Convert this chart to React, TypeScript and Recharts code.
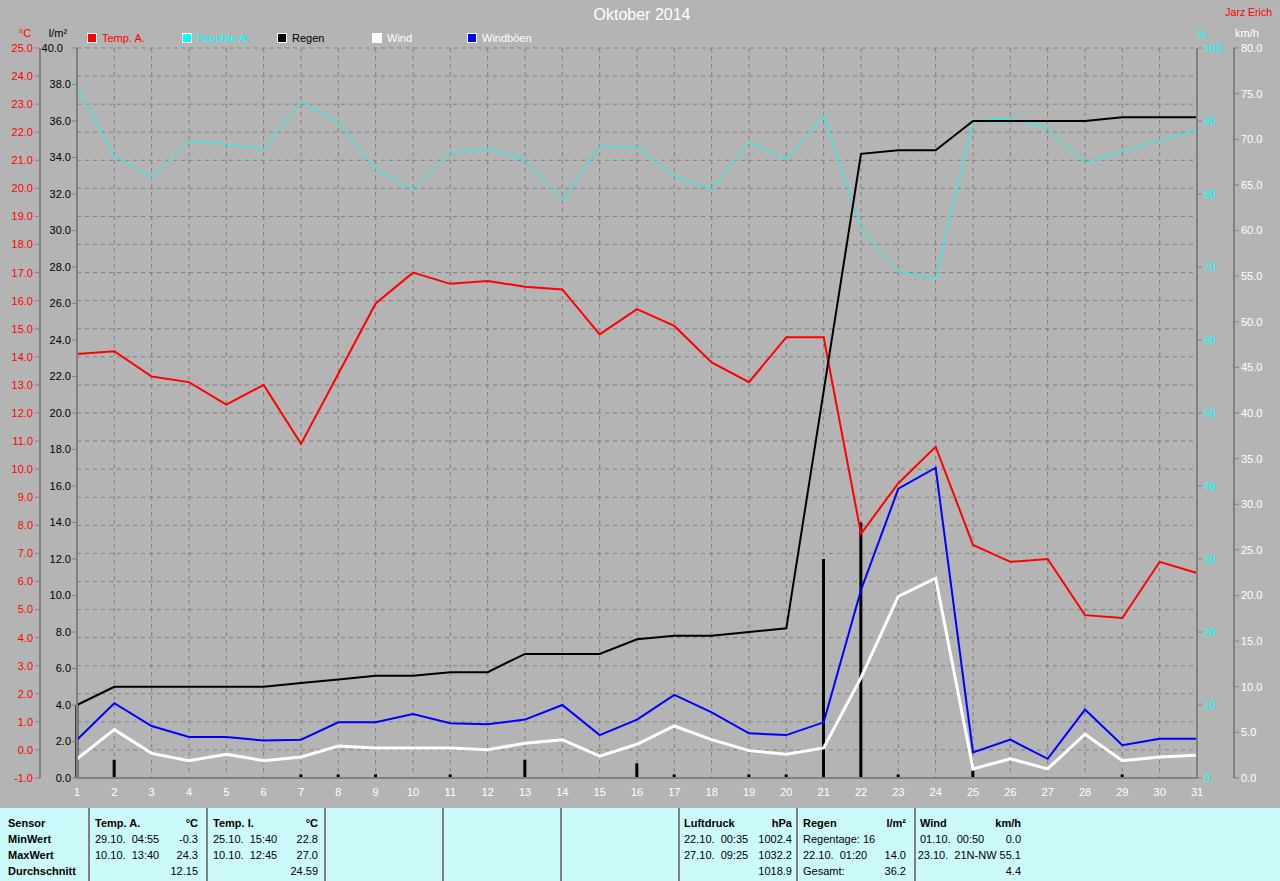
import { ComposedChart, Line, Bar, XAxis, YAxis, CartesianGrid } from 'recharts';

const FONT = '"Liberation Sans", Arial, sans-serif';

const days = [1, 2, 3, 4, 5, 6, 7, 8, 9, 10, 11, 12, 13, 14, 15, 16, 17, 18, 19, 20, 21, 22, 23, 24, 25, 26, 27, 28, 29, 30, 31];
const tempA = [14.1, 14.2, 13.3, 13.1, 12.3, 13.0, 10.9, 13.4, 15.9, 17.0, 16.6, 16.7, 16.5, 16.4, 14.8, 15.7, 15.1, 13.8, 13.1, 14.7, 14.7, 7.7, 9.5, 10.8, 7.3, 6.7, 6.8, 4.8, 4.7, 6.7, 6.3];
const humidity = [94.6, 85.2, 82.3, 87.3, 86.8, 86.2, 92.6, 89.9, 83.4, 80.7, 85.7, 86.2, 84.7, 79.1, 86.5, 86.4, 82.5, 80.7, 87.1, 84.7, 90.8, 75.3, 69.4, 68.4, 90.0, 90.4, 89.0, 84.2, 85.8, 87.4, 88.7];
const rainTotal = [4.0, 5.0, 5.0, 5.0, 5.0, 5.0, 5.2, 5.4, 5.6, 5.6, 5.8, 5.8, 6.8, 6.8, 6.8, 7.6, 7.8, 7.8, 8.0, 8.2, 21.2, 34.2, 34.4, 34.4, 36.0, 36.0, 36.0, 36.0, 36.2, 36.2, 36.2];
const rainDaily = [4.0, 1.0, 0, 0, 0, 0, 0.2, 0.2, 0.2, 0, 0.2, 0, 1.0, 0, 0, 0.8, 0.2, 0, 0.2, 0.2, 12.0, 14.0, 0.2, 0, 0.4, 0, 0, 0, 0.2, 0, 0];
const wind = [2.1, 5.3, 2.7, 1.9, 2.6, 1.9, 2.3, 3.5, 3.3, 3.3, 3.3, 3.1, 3.8, 4.2, 2.4, 3.7, 5.7, 4.2, 3.0, 2.6, 3.3, 11.0, 19.9, 21.9, 1.0, 2.1, 1.0, 4.8, 1.9, 2.3, 2.5];
const gusts = [4.2, 8.2, 5.7, 4.5, 4.5, 4.1, 4.2, 6.1, 6.1, 7.0, 6.0, 5.9, 6.4, 8.0, 4.7, 6.4, 9.1, 7.2, 4.9, 4.7, 6.1, 20.6, 31.7, 34.0, 2.8, 4.2, 2.1, 7.5, 3.6, 4.3, 4.3];

const tempTicks = [-1, 0, 1, 2, 3, 4, 5, 6, 7, 8, 9, 10, 11, 12, 13, 14, 15, 16, 17, 18, 19, 20, 21, 22, 23, 24, 25];
const rainTicks = [0, 2, 4, 6, 8, 10, 12, 14, 16, 18, 20, 22, 24, 26, 28, 30, 32, 34, 36, 38, 40];
const humTicks = [0, 10, 20, 30, 40, 50, 60, 70, 80, 90, 100];
const windTicks = [0, 5, 10, 15, 20, 25, 30, 35, 40, 45, 50, 55, 60, 65, 70, 75, 80];

const legendItems = [
  { name: 'Temp. A.', color: '#ff0000', text: '#ff0000', x: 87 },
  { name: 'Feuchte A.', color: '#00ffff', text: '#00ffff', x: 182 },
  { name: 'Regen', color: '#000000', text: '#000000', x: 277 },
  { name: 'Wind', color: '#ffffff', text: '#ffffff', x: 372 },
  { name: 'Windböen', color: '#0000ff', text: '#ffffff', x: 467 },
];

const tableSeparators = [88, 206, 324, 442, 560, 678, 796, 914];

// [text, x, y, align, bold]
const tableCells: [string, number, number, string, boolean][] = [
  ['Sensor', 8, 823, 'l', true],
  ['MinWert', 8, 839, 'l', true],
  ['MaxWert', 8, 855, 'l', true],
  ['Durchschnitt', 8, 871, 'l', true],
  ['Temp. A.', 95, 823, 'l', true],
  ['°C', 198, 823, 'r', true],
  ['29.10.  04:55', 95, 839, 'l', false],
  ['-0.3', 198, 839, 'r', false],
  ['10.10.  13:40', 95, 855, 'l', false],
  ['24.3', 198, 855, 'r', false],
  ['12.15', 198, 871, 'r', false],
  ['Temp. I.', 213, 823, 'l', true],
  ['°C', 318, 823, 'r', true],
  ['25.10.  15:40', 213, 839, 'l', false],
  ['22.8', 318, 839, 'r', false],
  ['10.10.  12:45', 213, 855, 'l', false],
  ['27.0', 318, 855, 'r', false],
  ['24.59', 318, 871, 'r', false],
  ['Luftdruck', 684, 823, 'l', true],
  ['hPa', 792, 823, 'r', true],
  ['22.10.  00:35', 684, 839, 'l', false],
  ['1002.4', 792, 839, 'r', false],
  ['27.10.  09:25', 684, 855, 'l', false],
  ['1032.2', 792, 855, 'r', false],
  ['1018.9', 792, 871, 'r', false],
  ['Regen', 803, 823, 'l', true],
  ['l/m²', 906, 823, 'r', true],
  ['Regentage: 16', 803, 839, 'l', false],
  ['22.10.  01:20', 803, 855, 'l', false],
  ['14.0', 906, 855, 'r', false],
  ['Gesamt:', 803, 871, 'l', false],
  ['36.2', 906, 871, 'r', false],
  ['Wind', 920, 823, 'l', true],
  ['km/h', 1021, 823, 'r', true],
  ['01.10.  00:50', 920, 839, 'l', false],
  ['0.0', 1021, 839, 'r', false],
  ['23.10.  21N-NW 55.1', 1021, 855, 'r', false],
  ['4.4', 1021, 871, 'r', false],
];

const data = days.map((d, i) => ({
  day: d,
  temp: tempA[i],
  hum: humidity[i],
  rainSum: rainTotal[i],
  rainDay: rainDaily[i],
  wind: wind[i],
  gust: gusts[i],
}));

function Txt({ x, y, children, color = '#000', size = 11, bold = false, align = 'l' }: any) {
  const shift = align === 'r' ? 'translateX(-100%)' : align === 'c' ? 'translateX(-50%)' : 'none';
  return (
    <div style={{
      position: 'absolute',
      left: x,
      top: y - 8,
      height: 16,
      lineHeight: '16px',
      fontSize: size,
      fontWeight: bold ? 'bold' : 'normal',
      color,
      whiteSpace: 'pre',
      transform: shift,
      fontFamily: FONT,
    }}>
      {children}
    </div>
  );
}

function RainTick(props: any) {
  const { x, y, payload } = props;
  // top label sits a bit further left, like the original
  const dx = payload.value === 40 ? -8 : 0;
  return (
    <text x={x + dx} y={y} dy="0.355em" textAnchor="end" fill="#000" fontSize={11} fontFamily={FONT}>
      {payload.value.toFixed(1)}
    </text>
  );
}

const gray = '#808080';

export default function App() {
  return (
    <div style={{ position: 'relative', width: 1280, height: 881, background: '#b4b4b4', overflow: 'hidden', fontFamily: FONT }}>
      <style>{'body{margin:0}'}</style>
      <ComposedChart width={1280} height={800} data={data} margin={{ top: 48, right: 0, bottom: 0, left: 0 }}>
        <CartesianGrid yAxisId="temp" stroke={gray} strokeDasharray="4 4" />
        <XAxis
          dataKey="day"
          type="number"
          domain={[1, 31]}
          ticks={days}
          interval={0}
          height={22}
          axisLine={{ stroke: gray, strokeWidth: 2 }}
          tickLine={false}
          tickSize={4}
          tickMargin={6}
          tick={{ fill: '#ffffff', fontSize: 11, fontFamily: FONT }}
        />
        <XAxis
          xAxisId="top"
          orientation="top"
          dataKey="day"
          type="number"
          domain={[1, 31]}
          height={0}
          tick={false}
          tickLine={false}
          axisLine={{ stroke: gray, strokeWidth: 2 }}
        />
        <YAxis
          yAxisId="rain"
          orientation="left"
          width={37}
          domain={[0, 40]}
          ticks={rainTicks}
          interval={0}
          axisLine={{ stroke: gray, strokeWidth: 2 }}
          tickLine={{ stroke: gray }}
          tickSize={5}
          tickMargin={1}
          tick={<RainTick />}
        />
        <YAxis
          yAxisId="temp"
          orientation="left"
          width={40}
          domain={[-1, 25]}
          ticks={tempTicks}
          interval={0}
          axisLine={{ stroke: gray, strokeWidth: 2 }}
          tickLine={{ stroke: gray }}
          tickSize={5}
          tickMargin={2}
          tickFormatter={(v: number) => v.toFixed(1)}
          tick={{ fill: '#ff0000', fontSize: 11, fontFamily: FONT }}
        />
        <YAxis
          yAxisId="hum"
          orientation="right"
          width={37}
          domain={[0, 100]}
          ticks={humTicks}
          interval={0}
          axisLine={{ stroke: gray, strokeWidth: 2 }}
          tickLine={{ stroke: gray }}
          tickSize={5}
          tickMargin={2}
          tick={{ fill: '#00ffff', fontSize: 11, fontFamily: FONT }}
        />
        <YAxis
          yAxisId="wind"
          orientation="right"
          width={46}
          domain={[0, 80]}
          ticks={windTicks}
          interval={0}
          axisLine={{ stroke: gray, strokeWidth: 2 }}
          tickLine={{ stroke: gray }}
          tickSize={5}
          tickMargin={2}
          tickFormatter={(v: number) => v.toFixed(1)}
          tick={{ fill: '#ffffff', fontSize: 11, fontFamily: FONT }}
        />
        <Bar yAxisId="rain" dataKey="rainDay" fill="#000000" barSize={3} isAnimationActive={false} />
        <Line yAxisId="hum" type="linear" dataKey="hum" stroke="#00ffff" strokeWidth={1} dot={false} isAnimationActive={false} />
        <Line yAxisId="temp" type="linear" dataKey="temp" stroke="#ff0000" strokeWidth={2} dot={false} isAnimationActive={false} />
        <Line yAxisId="wind" type="linear" dataKey="wind" stroke="#ffffff" strokeWidth={3} dot={false} isAnimationActive={false} />
        <Line yAxisId="wind" type="linear" dataKey="gust" stroke="#0000ff" strokeWidth={2} dot={false} isAnimationActive={false} />
        <Line yAxisId="rain" type="linear" dataKey="rainSum" stroke="#000000" strokeWidth={2} dot={false} isAnimationActive={false} />
      </ComposedChart>

      <Txt x={642} y={15} size={16} color="#ffffff" align="c">Oktober 2014</Txt>
      <Txt x={1272} y={12} size={10.5} color="#ff0000" align="r">Jarz Erich</Txt>
      <Txt x={25} y={33} color="#ff0000" align="c">°C</Txt>
      <Txt x={58} y={33} color="#000000" align="c">l/m²</Txt>
      <Txt x={1202} y={34} color="#00ffff" align="c">%</Txt>
      <Txt x={1247} y={33} color="#ffffff" align="c">km/h</Txt>

      {legendItems.map((it) => (
        <div key={it.name}>
          <div style={{
            position: 'absolute', left: it.x, top: 33, width: 10, height: 10,
            background: it.color, border: '1px solid #ffffff', boxSizing: 'border-box',
          }} />
          <Txt x={it.x + 15} y={38} color={it.text}>{it.name}</Txt>
        </div>
      ))}

      <div style={{ position: 'absolute', left: 0, top: 808, width: 1280, height: 73, background: '#ccfafa' }} />
      {tableSeparators.map((sx) => (
        <div key={sx} style={{ position: 'absolute', left: sx, top: 808, width: 2, height: 73, background: gray }} />
      ))}
      {tableCells.map(([t, x, y, a, b], i) => (
        <Txt key={i} x={x} y={y} align={a} bold={b} color="#000000">{t}</Txt>
      ))}
    </div>
  );
}
